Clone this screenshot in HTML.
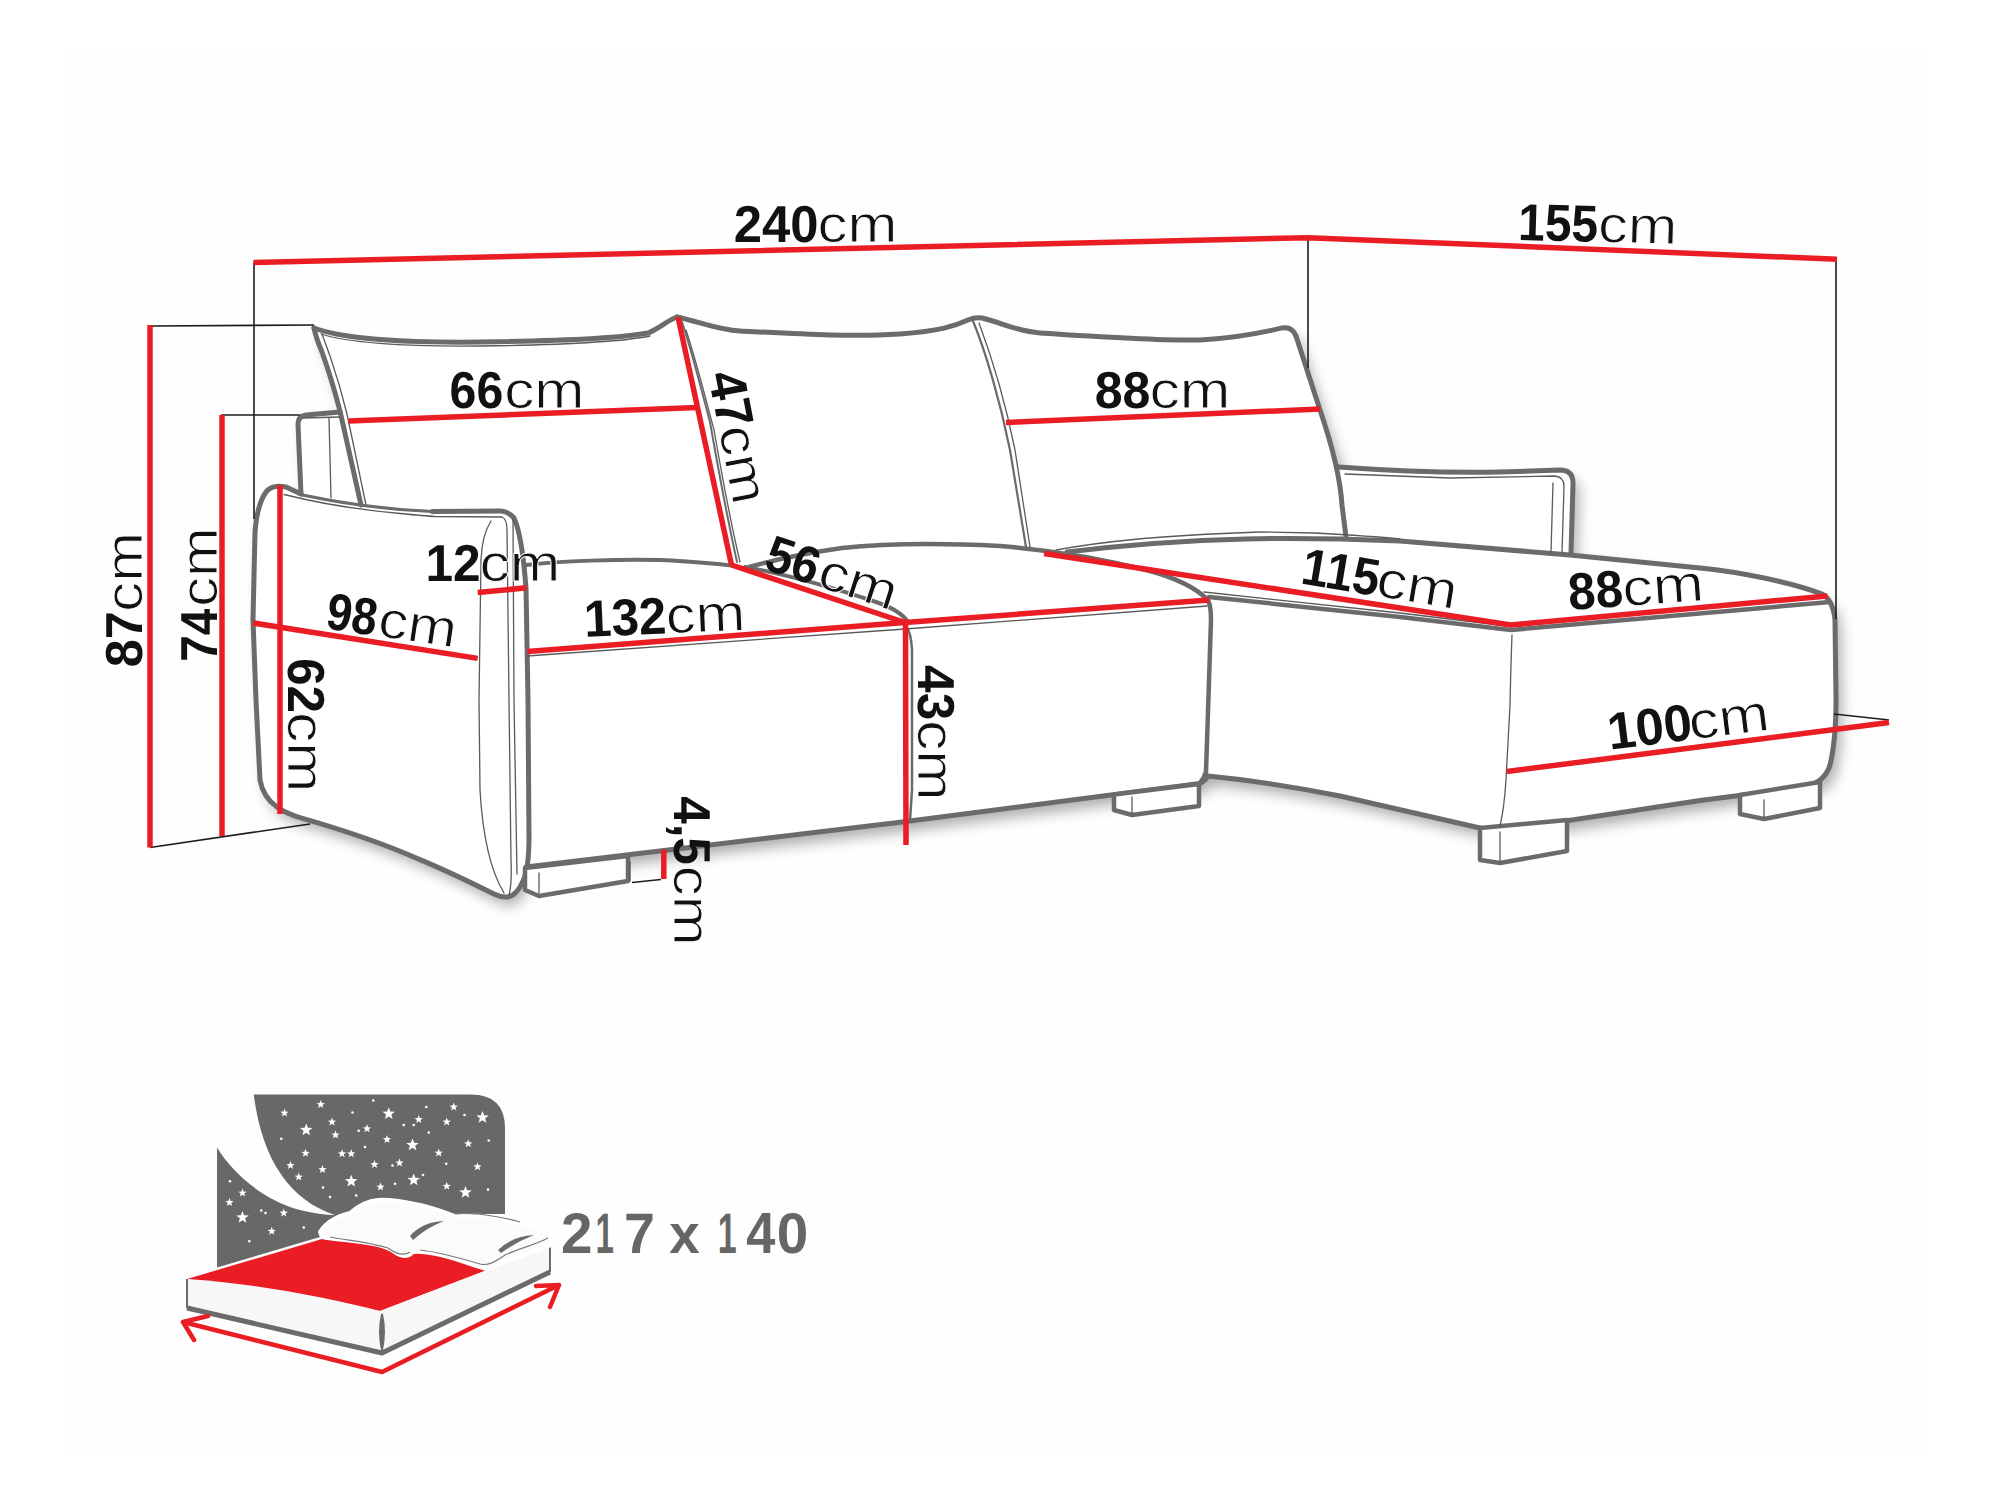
<!DOCTYPE html><html><head><meta charset="utf-8"><style>html,body{margin:0;padding:0;background:#fff;}svg{display:block;}</style></head><body><svg width="2000" height="1500" viewBox="0 0 2000 1500" text-rendering="geometricPrecision">
<rect x="0" y="0" width="2000" height="1500" fill="#ffffff"/>
<defs><filter id="sh" x="-5%" y="-5%" width="115%" height="120%"><feGaussianBlur in="SourceAlpha" stdDeviation="7"/><feOffset dx="6" dy="9"/><feComponentTransfer><feFuncA type="linear" slope="0.32"/></feComponentTransfer><feMerge><feMergeNode/><feMergeNode in="SourceGraphic"/></feMerge></filter></defs>
<rect x="65" y="53" width="1864" height="1397" fill="#fefefe"/>
<path d="M 314 328 C 340 338 400 343 480 342 C 560 341 620 338 648 333 C 660 328 668 320 677 317 C 700 322 718 330 740 331 C 800 334 850 337 900 334 C 940 331 955 326 968 320 Q 975 317 982 318 C 1000 322 1015 331 1040 333 C 1100 337 1160 341 1200 340 C 1240 338 1265 332 1282 328 Q 1292 326 1296 336 L 1320 410 C 1328 435 1334 452 1338 467 C 1380 470 1450 473 1500 472 L 1560 470 Q 1573 470 1573 483 L 1571 553 L 1700 568 C 1740 572 1790 582 1822 594 Q 1833 600 1835 620 L 1836 700 Q 1836 740 1830 765 Q 1825 782 1805 786 L 1700 800.5 L 1500 831 L 1480 828 L 1340 796 C 1300 788 1250 780 1208 776 L 1200 783.5 L 900 822.3 L 526 867 Q 520 890 506 897 Q 500 897 494 894 C 470 882 445 870 420 859.6 C 380 842 340 829 300 817.6 Q 285 813 277 807 Q 263 797 260 780 L 256 700 L 253 620 L 255 532 Q 257 505 266 492 Q 272 484 286 487 L 301 494 L 298 424 Q 298 416 306 415 L 340 411 Q 332 380 322 352 Q 316 338 314 328 Z" fill="#ffffff" filter="url(#sh)"/>
<path d="M 314 328 C 340 338 400 343 480 342 C 560 341 620 338 648 333 C 660 328 668 320 677 317" fill="none" stroke="#6b6b6b" stroke-width="5" stroke-linejoin="round" stroke-linecap="round" />
<path d="M 314 328 Q 316 338 322 352 Q 332 380 340 411 L 361 505" fill="none" stroke="#6b6b6b" stroke-width="5" stroke-linejoin="round" stroke-linecap="round" />
<path d="M 340 412 L 306 415 Q 298 416 298 424 L 301 494" fill="none" stroke="#6b6b6b" stroke-width="5" stroke-linejoin="round" stroke-linecap="round" />
<path d="M 677 317 C 700 322 718 330 740 331 C 800 334 850 337 900 334 C 940 331 955 326 968 320 Q 975 317 982 318 C 1000 322 1015 331 1040 333 C 1100 337 1160 341 1200 340 C 1240 338 1265 332 1282 328 Q 1292 326 1296 336" fill="none" stroke="#6b6b6b" stroke-width="5" stroke-linejoin="round" stroke-linecap="round" />
<path d="M 1296 336 L 1320 410 C 1332 445 1340 475 1342 505 L 1346 537" fill="none" stroke="#6b6b6b" stroke-width="5" stroke-linejoin="round" stroke-linecap="round" />
<path d="M 1338 467 C 1380 470 1450 473 1500 472 L 1560 470 Q 1573 470 1573 483 L 1571 553" fill="none" stroke="#6b6b6b" stroke-width="5" stroke-linejoin="round" stroke-linecap="round" />
<path d="M 432 511.5 L 500 511 Q 508 511 514 518 Q 522 535 526 588 L 528 700 L 529 838 Q 529 868 523 881 Q 516 897 506 897 Q 500 897 494 894 C 470 882 445 870 420 859.6 C 380 842 340 829 300 817.6 Q 285 813 277 807 Q 263 797 260 780 L 256 700 L 253 620 L 255 532 Q 257 505 266 492 Q 272 484 286 487 L 301 494" fill="none" stroke="#6b6b6b" stroke-width="5" stroke-linejoin="round" stroke-linecap="round" />
<path d="M 526 565 C 560 561 620 559 660 560 C 700 562 720 564 735 566" fill="none" stroke="#6b6b6b" stroke-width="4" stroke-linejoin="round" stroke-linecap="round" />
<path d="M 745 567 C 790 575 840 590 876 602 Q 900 610 908 622" fill="none" stroke="#6b6b6b" stroke-width="4" stroke-linejoin="round" stroke-linecap="round" />
<path d="M 749 567 C 770 561 800 554 842 548 C 880 544 940 543 1000 546 C 1050 550 1100 558 1150 571 Q 1190 582 1208 600 Q 1211 606 1211 620 L 1206 772 Q 1204 778 1200 783" fill="none" stroke="#6b6b6b" stroke-width="4.5" stroke-linejoin="round" stroke-linecap="round" />
<path d="M 526 867 L 900 822.3 L 1200 783.5 Q 1205 781 1208 776 C 1250 780 1300 788 1340 796 L 1480 828 Q 1490 831 1500 831 L 1700 800.5 L 1805 787 Q 1825 782 1830 765 Q 1836 740 1836 700 L 1835 620 Q 1833 600 1822 594 C 1790 582 1740 572 1700 568 L 1570 555 L 1400 541 C 1300 537 1200 536 1067 552" fill="none" stroke="#6b6b6b" stroke-width="5" stroke-linejoin="round" stroke-linecap="round" />
<path d="M 1209 597 L 1400 617 L 1511 630 L 1830 602" fill="none" stroke="#6b6b6b" stroke-width="4.5" stroke-linejoin="round" stroke-linecap="round" />
<path d="M 525 868 L 525 890 L 539 896 L 628 881 L 628 856 Z" fill="#fff" stroke="#6b6b6b" stroke-width="4.5" stroke-linejoin="round" stroke-linecap="round" />
<path d="M 1114 794.5 L 1114 810 L 1132 815 L 1199 806 L 1199 784 Z" fill="#fff" stroke="#6b6b6b" stroke-width="4.5" stroke-linejoin="round" stroke-linecap="round" />
<path d="M 1480 828 L 1480 860 L 1500 863 L 1567 851 L 1567 820 Z" fill="#fff" stroke="#6b6b6b" stroke-width="4.5" stroke-linejoin="round" stroke-linecap="round" />
<path d="M 1740 795 L 1740 814 L 1764 819 L 1820 808 L 1820 782 Z" fill="#fff" stroke="#6b6b6b" stroke-width="4.5" stroke-linejoin="round" stroke-linecap="round" />
<path d="M 906 626 Q 911 632 912 650 L 912 790 L 910 820" fill="none" stroke="#6b6b6b" stroke-width="2.5" stroke-linejoin="round" stroke-linecap="round" />
<path d="M 321 334 C 345 342 400 347 480 346 C 560 345 620 342 650 336" fill="none" stroke="#5a5a5a" stroke-width="1.3" stroke-linejoin="round" stroke-linecap="round" />
<path d="M 322 334 Q 326 345 330 356 Q 340 385 347 414 L 366 505" fill="none" stroke="#5a5a5a" stroke-width="1.3" stroke-linejoin="round" stroke-linecap="round" />
<path d="M 329 418 L 331 498" fill="none" stroke="#5a5a5a" stroke-width="1.3" stroke-linejoin="round" stroke-linecap="round" />
<path d="M 303 418 L 340 417" fill="none" stroke="#5a5a5a" stroke-width="1.3" stroke-linejoin="round" stroke-linecap="round" />
<path d="M 973 321 C 985 350 1000 400 1010 450 L 1026 547" fill="none" stroke="#6b6b6b" stroke-width="2.2" stroke-linejoin="round" stroke-linecap="round" />
<path d="M 979 323 C 991 355 1005 400 1015 450 L 1030 547" fill="none" stroke="#5a5a5a" stroke-width="1.3" stroke-linejoin="round" stroke-linecap="round" />
<path d="M 682 322 C 692 352 702 392 710 422 C 717 462 726 512 737 562" fill="none" stroke="#6b6b6b" stroke-width="2" stroke-linejoin="round" stroke-linecap="round" />
<path d="M 686 330 C 696 360 706 400 714 430 C 721 470 730 520 740 562" fill="none" stroke="#5a5a5a" stroke-width="1.3" stroke-linejoin="round" stroke-linecap="round" />
<path d="M 1345 474 L 1450 478 L 1555 476 Q 1564 477 1564 486 L 1562 553" fill="none" stroke="#5a5a5a" stroke-width="1.3" stroke-linejoin="round" stroke-linecap="round" />
<path d="M 1553 483 L 1551 553" fill="none" stroke="#5a5a5a" stroke-width="1.3" stroke-linejoin="round" stroke-linecap="round" />
<path d="M 300 494.5 C 330 501 375 509 432 511.5" fill="none" stroke="#6b6b6b" stroke-width="3.2" stroke-linejoin="round" stroke-linecap="round" />
<path d="M 284 494.5 C 310 501 350 509 400 513.5 C 415 515 425 516 435 516.5 L 502 517 Q 507 519 507 530 L 509 700 L 511 860 Q 512 885 509 895" fill="none" stroke="#5a5a5a" stroke-width="1.3" stroke-linejoin="round" stroke-linecap="round" />
<path d="M 491 521 Q 482 535 481 560 L 479 700 L 480 790 Q 484 860 504 893" fill="none" stroke="#5a5a5a" stroke-width="1.3" stroke-linejoin="round" stroke-linecap="round" />
<path d="M 513 519 L 514 700 L 517 874" fill="none" stroke="#5a5a5a" stroke-width="1.3" stroke-linejoin="round" stroke-linecap="round" />
<path d="M 527 656 L 905 629 L 1207 606" fill="none" stroke="#5a5a5a" stroke-width="1.3" stroke-linejoin="round" stroke-linecap="round" />
<path d="M 1056 550 C 1100 542 1150 536 1260 532 L 1314 533 C 1350 535 1380 537 1400 539" fill="none" stroke="#5a5a5a" stroke-width="1.3" stroke-linejoin="round" stroke-linecap="round" />
<path d="M 1204 592 L 1400 613 L 1507 626" fill="none" stroke="#5a5a5a" stroke-width="1.3" stroke-linejoin="round" stroke-linecap="round" />
<path d="M 1512 635 Q 1511 660 1510 705 L 1506 780 Q 1504 810 1500 826" fill="none" stroke="#5a5a5a" stroke-width="1.3" stroke-linejoin="round" stroke-linecap="round" />
<path d="M 539 873 L 539 893" fill="none" stroke="#5a5a5a" stroke-width="1.3" stroke-linejoin="round" stroke-linecap="round" />
<path d="M 1132 797 L 1132 814" fill="none" stroke="#5a5a5a" stroke-width="1.3" stroke-linejoin="round" stroke-linecap="round" />
<path d="M 1500 832 L 1500 861" fill="none" stroke="#5a5a5a" stroke-width="1.3" stroke-linejoin="round" stroke-linecap="round" />
<path d="M 1764 800 L 1764 818" fill="none" stroke="#5a5a5a" stroke-width="1.3" stroke-linejoin="round" stroke-linecap="round" />
<path d="M 630 862 L 630 881" fill="none" stroke="#5a5a5a" stroke-width="1.3" stroke-linejoin="round" stroke-linecap="round" />
<path d="M 254 262 L 254 519" fill="none" stroke="#1c1c1c" stroke-width="1.6" stroke-linejoin="miter" stroke-linecap="butt"/>
<path d="M 150 326 L 314 325" fill="none" stroke="#1c1c1c" stroke-width="1.6" stroke-linejoin="miter" stroke-linecap="butt"/>
<path d="M 221 415 L 300 415" fill="none" stroke="#1c1c1c" stroke-width="1.6" stroke-linejoin="miter" stroke-linecap="butt"/>
<path d="M 150 847.5 L 310 824" fill="none" stroke="#1c1c1c" stroke-width="1.6" stroke-linejoin="miter" stroke-linecap="butt"/>
<path d="M 1308 238 L 1308 368" fill="none" stroke="#1c1c1c" stroke-width="1.6" stroke-linejoin="miter" stroke-linecap="butt"/>
<path d="M 1836 259 L 1836 619" fill="none" stroke="#1c1c1c" stroke-width="1.6" stroke-linejoin="miter" stroke-linecap="butt"/>
<path d="M 1834 714 L 1889 720" fill="none" stroke="#1c1c1c" stroke-width="1.6" stroke-linejoin="miter" stroke-linecap="butt"/>
<path d="M 632 882.5 L 661 879.5" fill="none" stroke="#1c1c1c" stroke-width="1.6" stroke-linejoin="miter" stroke-linecap="butt"/>
<path d="M 253.5 262.5 L 1308 237.7 L 1837 259.2" fill="none" stroke="#ea1d25" stroke-width="5.5" stroke-linejoin="miter" stroke-linecap="butt"/>
<path d="M 150 325 L 150 847.5" fill="none" stroke="#ea1d25" stroke-width="5.5" stroke-linejoin="miter" stroke-linecap="butt"/>
<path d="M 222 415 L 222 836" fill="none" stroke="#ea1d25" stroke-width="5.5" stroke-linejoin="miter" stroke-linecap="butt"/>
<path d="M 280 485 L 280 814" fill="none" stroke="#ea1d25" stroke-width="5.5" stroke-linejoin="miter" stroke-linecap="butt"/>
<path d="M 253 623 L 477.7 658.4" fill="none" stroke="#ea1d25" stroke-width="5.5" stroke-linejoin="miter" stroke-linecap="butt"/>
<path d="M 477.7 592.6 L 526.5 587.8" fill="none" stroke="#ea1d25" stroke-width="5.5" stroke-linejoin="miter" stroke-linecap="butt"/>
<path d="M 527.3 651.6 L 905 622.5 L 1209 600" fill="none" stroke="#ea1d25" stroke-width="5.5" stroke-linejoin="miter" stroke-linecap="butt"/>
<path d="M 731.5 565 L 905 622.5" fill="none" stroke="#ea1d25" stroke-width="5.5" stroke-linejoin="miter" stroke-linecap="butt"/>
<path d="M 678 317 L 731.5 565" fill="none" stroke="#ea1d25" stroke-width="5.5" stroke-linejoin="miter" stroke-linecap="butt"/>
<path d="M 348.5 421 L 697.5 407.5" fill="none" stroke="#ea1d25" stroke-width="5.5" stroke-linejoin="miter" stroke-linecap="butt"/>
<path d="M 1006 422.5 L 1320 409" fill="none" stroke="#ea1d25" stroke-width="5.5" stroke-linejoin="miter" stroke-linecap="butt"/>
<path d="M 905.5 622.5 L 906 845" fill="none" stroke="#ea1d25" stroke-width="5.5" stroke-linejoin="miter" stroke-linecap="butt"/>
<path d="M 1044 553.5 L 1511 625 L 1827.5 596" fill="none" stroke="#ea1d25" stroke-width="5.5" stroke-linejoin="miter" stroke-linecap="butt"/>
<path d="M 1507 771.5 L 1889 722.5" fill="none" stroke="#ea1d25" stroke-width="5.5" stroke-linejoin="miter" stroke-linecap="butt"/>
<path d="M 663.8 849.6 L 663.8 879" fill="none" stroke="#ea1d25" stroke-width="5.5" stroke-linejoin="miter" stroke-linecap="butt"/>
<g transform="translate(815.5 223.0) rotate(0)"><text x="-81.8" y="18.5" font-family="Liberation Sans" font-weight="bold" font-size="52" fill="#111" textLength="84.75" lengthAdjust="spacingAndGlyphs">240</text><text x="2.0" y="18.5" font-family="Liberation Sans" font-size="52" fill="#111" stroke="#fdfdfd" stroke-width="0.9" textLength="79.75" lengthAdjust="spacingAndGlyphs">cm</text></g>
<g transform="translate(1597.75 223.5) rotate(1.5)"><text x="-79.5" y="18.5" font-family="Liberation Sans" font-weight="bold" font-size="52" fill="#111" textLength="79.9" lengthAdjust="spacingAndGlyphs">155</text><text x="0.5" y="18.5" font-family="Liberation Sans" font-size="52" fill="#111" stroke="#fdfdfd" stroke-width="0.9" textLength="79.0" lengthAdjust="spacingAndGlyphs">cm</text></g>
<g transform="translate(517.05 389.0) rotate(0)"><text x="-67.5" y="18.5" font-family="Liberation Sans" font-weight="bold" font-size="52" fill="#111" textLength="53.68" lengthAdjust="spacingAndGlyphs">66</text><text x="-12.8" y="18.5" font-family="Liberation Sans" font-size="52" fill="#111" stroke="#fdfdfd" stroke-width="0.9" textLength="80.28" lengthAdjust="spacingAndGlyphs">cm</text></g>
<g transform="translate(1162.5 389.75) rotate(0)"><text x="-67.8" y="18.5" font-family="Liberation Sans" font-weight="bold" font-size="52" fill="#111" textLength="55.71" lengthAdjust="spacingAndGlyphs">88</text><text x="-13.1" y="18.5" font-family="Liberation Sans" font-size="52" fill="#111" stroke="#fdfdfd" stroke-width="0.9" textLength="80.98" lengthAdjust="spacingAndGlyphs">cm</text></g>
<g transform="translate(123.45 599.75) rotate(-90)"><text x="-67.6" y="18.5" font-family="Liberation Sans" font-weight="bold" font-size="52" fill="#111" textLength="55.95" lengthAdjust="spacingAndGlyphs">87</text><text x="-11.9" y="18.5" font-family="Liberation Sans" font-size="52" fill="#111" stroke="#fdfdfd" stroke-width="0.9" textLength="79.53" lengthAdjust="spacingAndGlyphs">cm</text></g>
<g transform="translate(198.65 594.5) rotate(-90)"><text x="-67.2" y="18.5" font-family="Liberation Sans" font-weight="bold" font-size="52" fill="#111" textLength="52.95" lengthAdjust="spacingAndGlyphs">74</text><text x="-12.2" y="18.5" font-family="Liberation Sans" font-size="52" fill="#111" stroke="#fdfdfd" stroke-width="0.9" textLength="79.45" lengthAdjust="spacingAndGlyphs">cm</text></g>
<g transform="translate(306.0 725.2) rotate(90)"><text x="-67.0" y="18.5" font-family="Liberation Sans" font-weight="bold" font-size="52" fill="#111" textLength="54.77" lengthAdjust="spacingAndGlyphs">62</text><text x="-13.0" y="18.5" font-family="Liberation Sans" font-size="52" fill="#111" stroke="#fdfdfd" stroke-width="0.9" textLength="80.0" lengthAdjust="spacingAndGlyphs">cm</text></g>
<g transform="translate(739.0 437.0) rotate(79)"><text x="-67.0" y="18.5" font-family="Liberation Sans" font-weight="bold" font-size="52" fill="#111" textLength="56.05" lengthAdjust="spacingAndGlyphs">47</text><text x="-12.0" y="18.5" font-family="Liberation Sans" font-size="52" fill="#111" stroke="#fdfdfd" stroke-width="0.9" textLength="78.97" lengthAdjust="spacingAndGlyphs">cm</text></g>
<g transform="translate(936.0 732.8) rotate(90)"><text x="-67.7" y="18.5" font-family="Liberation Sans" font-weight="bold" font-size="52" fill="#111" textLength="55.08" lengthAdjust="spacingAndGlyphs">43</text><text x="-12.6" y="18.5" font-family="Liberation Sans" font-size="52" fill="#111" stroke="#fdfdfd" stroke-width="0.9" textLength="80.38" lengthAdjust="spacingAndGlyphs">cm</text></g>
<g transform="translate(492.9 562.55) rotate(0)"><text x="-67.4" y="18.5" font-family="Liberation Sans" font-weight="bold" font-size="52" fill="#111" textLength="55.19" lengthAdjust="spacingAndGlyphs">12</text><text x="-13.4" y="18.5" font-family="Liberation Sans" font-size="52" fill="#111" stroke="#fdfdfd" stroke-width="0.9" textLength="80.78" lengthAdjust="spacingAndGlyphs">cm</text></g>
<g transform="translate(392.0 619.55) rotate(8.5)"><text x="-65.6" y="18.5" font-family="Liberation Sans" font-weight="bold" font-size="52" fill="#111" textLength="50.85" lengthAdjust="spacingAndGlyphs">98</text><text x="-12.8" y="18.5" font-family="Liberation Sans" font-size="52" fill="#111" stroke="#fdfdfd" stroke-width="0.9" textLength="78.45" lengthAdjust="spacingAndGlyphs">cm</text></g>
<g transform="translate(664.5 615.0) rotate(-2.5)"><text x="-80.7" y="18.5" font-family="Liberation Sans" font-weight="bold" font-size="52" fill="#111" textLength="82.45" lengthAdjust="spacingAndGlyphs">132</text><text x="1.2" y="18.5" font-family="Liberation Sans" font-size="52" fill="#111" stroke="#fdfdfd" stroke-width="0.9" textLength="79.46" lengthAdjust="spacingAndGlyphs">cm</text></g>
<g transform="translate(832.5 572.0) rotate(18)"><text x="-67.8" y="18.5" font-family="Liberation Sans" font-weight="bold" font-size="52" fill="#111" textLength="53.45" lengthAdjust="spacingAndGlyphs">56</text><text x="-12.0" y="18.5" font-family="Liberation Sans" font-size="52" fill="#111" stroke="#fdfdfd" stroke-width="0.9" textLength="79.79" lengthAdjust="spacingAndGlyphs">cm</text></g>
<g transform="translate(1380.0 578.0) rotate(9.5)"><text x="-78.6" y="18.5" font-family="Liberation Sans" font-weight="bold" font-size="52" fill="#111" textLength="78.26" lengthAdjust="spacingAndGlyphs">115</text><text x="-2.4" y="18.5" font-family="Liberation Sans" font-size="52" fill="#111" stroke="#fdfdfd" stroke-width="0.9" textLength="81.08" lengthAdjust="spacingAndGlyphs">cm</text></g>
<g transform="translate(1635.8 586.75) rotate(-4)"><text x="-67.9" y="18.5" font-family="Liberation Sans" font-weight="bold" font-size="52" fill="#111" textLength="54.7" lengthAdjust="spacingAndGlyphs">88</text><text x="-13.5" y="18.5" font-family="Liberation Sans" font-size="52" fill="#111" stroke="#fdfdfd" stroke-width="0.9" textLength="81.4" lengthAdjust="spacingAndGlyphs">cm</text></g>
<g transform="translate(1688.0 721.5) rotate(-7)"><text x="-81.2" y="18.5" font-family="Liberation Sans" font-weight="bold" font-size="52" fill="#111" textLength="84.74" lengthAdjust="spacingAndGlyphs">100</text><text x="0.4" y="18.5" font-family="Liberation Sans" font-size="52" fill="#111" stroke="#fdfdfd" stroke-width="0.9" textLength="80.81" lengthAdjust="spacingAndGlyphs">cm</text></g>
<g transform="translate(692.4 870.9) rotate(90)"><text x="-74.7" y="18.5" font-family="Liberation Sans" font-weight="bold" font-size="52" fill="#111" textLength="68.58" lengthAdjust="spacingAndGlyphs">4,5</text><text x="-5.1" y="18.5" font-family="Liberation Sans" font-size="52" fill="#111" stroke="#fdfdfd" stroke-width="0.9" textLength="79.84" lengthAdjust="spacingAndGlyphs">cm</text></g>
<path d="M 253.75 1094.5 L 471 1094.5 Q 505 1094.5 505 1128.5 L 505 1214 L 440 1214 L 217 1272 L 217 1147.5 C 232 1172 262 1200 300 1210 Q 320 1215 335 1215 C 290 1200 262 1160 253.75 1094.5 Z" fill="#686868"/>
<polygon points="306.25,1123.40 307.88,1127.76 312.53,1127.96 308.89,1130.86 310.13,1135.34 306.25,1132.77 302.37,1135.34 303.61,1130.86 299.97,1127.96 304.62,1127.76" fill="#fff"/>
<polygon points="388.75,1107.15 390.38,1111.51 395.03,1111.71 391.39,1114.61 392.63,1119.09 388.75,1116.52 384.87,1119.09 386.11,1114.61 382.47,1111.71 387.12,1111.51" fill="#fff"/>
<polygon points="412.50,1138.40 414.13,1142.76 418.78,1142.96 415.14,1145.86 416.38,1150.34 412.50,1147.77 408.62,1150.34 409.86,1145.86 406.22,1142.96 410.87,1142.76" fill="#fff"/>
<polygon points="482.50,1110.90 484.13,1115.26 488.78,1115.46 485.14,1118.36 486.38,1122.84 482.50,1120.27 478.62,1122.84 479.86,1118.36 476.22,1115.46 480.87,1115.26" fill="#fff"/>
<polygon points="351.25,1174.65 352.88,1179.01 357.53,1179.21 353.89,1182.11 355.13,1186.59 351.25,1184.02 347.37,1186.59 348.61,1182.11 344.97,1179.21 349.62,1179.01" fill="#fff"/>
<polygon points="413.75,1173.40 415.38,1177.76 420.03,1177.96 416.39,1180.86 417.63,1185.34 413.75,1182.77 409.87,1185.34 411.11,1180.86 407.47,1177.96 412.12,1177.76" fill="#fff"/>
<polygon points="465.50,1185.90 467.13,1190.26 471.78,1190.46 468.14,1193.36 469.38,1197.84 465.50,1195.27 461.62,1197.84 462.86,1193.36 459.22,1190.46 463.87,1190.26" fill="#fff"/>
<polygon points="242.50,1210.90 244.13,1215.26 248.78,1215.46 245.14,1218.36 246.38,1222.84 242.50,1220.27 238.62,1222.84 239.86,1218.36 236.22,1215.46 240.87,1215.26" fill="#fff"/>
<polygon points="320.75,1100.10 321.84,1103.00 324.93,1103.14 322.51,1105.07 323.34,1108.06 320.75,1106.35 318.16,1108.06 318.99,1105.07 316.57,1103.14 319.66,1103.00" fill="#fff"/>
<polygon points="284.50,1108.60 285.59,1111.50 288.68,1111.64 286.26,1113.57 287.09,1116.56 284.50,1114.85 281.91,1116.56 282.74,1113.57 280.32,1111.64 283.41,1111.50" fill="#fff"/>
<polygon points="332.00,1117.60 333.09,1120.50 336.18,1120.64 333.76,1122.57 334.59,1125.56 332.00,1123.85 329.41,1125.56 330.24,1122.57 327.82,1120.64 330.91,1120.50" fill="#fff"/>
<polygon points="335.50,1130.60 336.59,1133.50 339.68,1133.64 337.26,1135.57 338.09,1138.56 335.50,1136.85 332.91,1138.56 333.74,1135.57 331.32,1133.64 334.41,1133.50" fill="#fff"/>
<polygon points="367.00,1124.35 368.09,1127.25 371.18,1127.39 368.76,1129.32 369.59,1132.31 367.00,1130.60 364.41,1132.31 365.24,1129.32 362.82,1127.39 365.91,1127.25" fill="#fff"/>
<polygon points="418.75,1115.10 419.84,1118.00 422.93,1118.14 420.51,1120.07 421.34,1123.06 418.75,1121.35 416.16,1123.06 416.99,1120.07 414.57,1118.14 417.66,1118.00" fill="#fff"/>
<polygon points="446.75,1117.60 447.84,1120.50 450.93,1120.64 448.51,1122.57 449.34,1125.56 446.75,1123.85 444.16,1125.56 444.99,1122.57 442.57,1120.64 445.66,1120.50" fill="#fff"/>
<polygon points="453.75,1102.60 454.84,1105.50 457.93,1105.64 455.51,1107.57 456.34,1110.56 453.75,1108.85 451.16,1110.56 451.99,1107.57 449.57,1105.64 452.66,1105.50" fill="#fff"/>
<polygon points="387.00,1135.10 388.09,1138.00 391.18,1138.14 388.76,1140.07 389.59,1143.06 387.00,1141.35 384.41,1143.06 385.24,1140.07 382.82,1138.14 385.91,1138.00" fill="#fff"/>
<polygon points="305.50,1148.85 306.59,1151.75 309.68,1151.89 307.26,1153.82 308.09,1156.81 305.50,1155.10 302.91,1156.81 303.74,1153.82 301.32,1151.89 304.41,1151.75" fill="#fff"/>
<polygon points="342.00,1149.35 343.09,1152.25 346.18,1152.39 343.76,1154.32 344.59,1157.31 342.00,1155.60 339.41,1157.31 340.24,1154.32 337.82,1152.39 340.91,1152.25" fill="#fff"/>
<polygon points="351.25,1149.35 352.34,1152.25 355.43,1152.39 353.01,1154.32 353.84,1157.31 351.25,1155.60 348.66,1157.31 349.49,1154.32 347.07,1152.39 350.16,1152.25" fill="#fff"/>
<polygon points="438.75,1148.60 439.84,1151.50 442.93,1151.64 440.51,1153.57 441.34,1156.56 438.75,1154.85 436.16,1156.56 436.99,1153.57 434.57,1151.64 437.66,1151.50" fill="#fff"/>
<polygon points="468.25,1139.35 469.34,1142.25 472.43,1142.39 470.01,1144.32 470.84,1147.31 468.25,1145.60 465.66,1147.31 466.49,1144.32 464.07,1142.39 467.16,1142.25" fill="#fff"/>
<polygon points="290.50,1161.10 291.59,1164.00 294.68,1164.14 292.26,1166.07 293.09,1169.06 290.50,1167.35 287.91,1169.06 288.74,1166.07 286.32,1164.14 289.41,1164.00" fill="#fff"/>
<polygon points="322.50,1165.10 323.59,1168.00 326.68,1168.14 324.26,1170.07 325.09,1173.06 322.50,1171.35 319.91,1173.06 320.74,1170.07 318.32,1168.14 321.41,1168.00" fill="#fff"/>
<polygon points="374.50,1160.10 375.59,1163.00 378.68,1163.14 376.26,1165.07 377.09,1168.06 374.50,1166.35 371.91,1168.06 372.74,1165.07 370.32,1163.14 373.41,1163.00" fill="#fff"/>
<polygon points="399.50,1158.60 400.59,1161.50 403.68,1161.64 401.26,1163.57 402.09,1166.56 399.50,1164.85 396.91,1166.56 397.74,1163.57 395.32,1161.64 398.41,1161.50" fill="#fff"/>
<polygon points="477.50,1162.35 478.59,1165.25 481.68,1165.39 479.26,1167.32 480.09,1170.31 477.50,1168.60 474.91,1170.31 475.74,1167.32 473.32,1165.39 476.41,1165.25" fill="#fff"/>
<polygon points="298.75,1172.60 299.84,1175.50 302.93,1175.64 300.51,1177.57 301.34,1180.56 298.75,1178.85 296.16,1180.56 296.99,1177.57 294.57,1175.64 297.66,1175.50" fill="#fff"/>
<polygon points="380.50,1182.60 381.59,1185.50 384.68,1185.64 382.26,1187.57 383.09,1190.56 380.50,1188.85 377.91,1190.56 378.74,1187.57 376.32,1185.64 379.41,1185.50" fill="#fff"/>
<polygon points="446.75,1181.85 447.84,1184.75 450.93,1184.89 448.51,1186.82 449.34,1189.81 446.75,1188.10 444.16,1189.81 444.99,1186.82 442.57,1184.89 445.66,1184.75" fill="#fff"/>
<polygon points="242.50,1188.60 243.59,1191.50 246.68,1191.64 244.26,1193.57 245.09,1196.56 242.50,1194.85 239.91,1196.56 240.74,1193.57 238.32,1191.64 241.41,1191.50" fill="#fff"/>
<polygon points="229.50,1198.10 230.59,1201.00 233.68,1201.14 231.26,1203.07 232.09,1206.06 229.50,1204.35 226.91,1206.06 227.74,1203.07 225.32,1201.14 228.41,1201.00" fill="#fff"/>
<polygon points="283.75,1208.60 284.84,1211.50 287.93,1211.64 285.51,1213.57 286.34,1216.56 283.75,1214.85 281.16,1216.56 281.99,1213.57 279.57,1211.64 282.66,1211.50" fill="#fff"/>
<polygon points="271.75,1226.85 272.84,1229.75 275.93,1229.89 273.51,1231.82 274.34,1234.81 271.75,1233.10 269.16,1234.81 269.99,1231.82 267.57,1229.89 270.66,1229.75" fill="#fff"/>
<circle cx="373.25" cy="1100.50" r="1.3" fill="#fff"/>
<circle cx="352.50" cy="1112.50" r="1.3" fill="#fff"/>
<circle cx="426.25" cy="1107.00" r="1.3" fill="#fff"/>
<circle cx="464.50" cy="1115.00" r="1.3" fill="#fff"/>
<circle cx="403.75" cy="1125.00" r="1.3" fill="#fff"/>
<circle cx="413.75" cy="1125.00" r="1.3" fill="#fff"/>
<circle cx="358.75" cy="1130.75" r="1.3" fill="#fff"/>
<circle cx="428.75" cy="1132.50" r="1.3" fill="#fff"/>
<circle cx="281.25" cy="1138.75" r="1.3" fill="#fff"/>
<circle cx="365.00" cy="1147.00" r="1.3" fill="#fff"/>
<circle cx="488.75" cy="1140.50" r="1.3" fill="#fff"/>
<circle cx="446.25" cy="1163.75" r="1.3" fill="#fff"/>
<circle cx="392.50" cy="1165.50" r="1.3" fill="#fff"/>
<circle cx="423.00" cy="1175.00" r="1.3" fill="#fff"/>
<circle cx="395.00" cy="1183.75" r="1.3" fill="#fff"/>
<circle cx="323.00" cy="1187.50" r="1.3" fill="#fff"/>
<circle cx="330.00" cy="1197.00" r="1.3" fill="#fff"/>
<circle cx="356.25" cy="1195.50" r="1.3" fill="#fff"/>
<circle cx="488.00" cy="1189.50" r="1.3" fill="#fff"/>
<circle cx="230.00" cy="1181.25" r="1.3" fill="#fff"/>
<circle cx="261.25" cy="1210.50" r="1.3" fill="#fff"/>
<circle cx="265.50" cy="1213.00" r="1.3" fill="#fff"/>
<circle cx="303.75" cy="1227.50" r="1.3" fill="#fff"/>
<circle cx="249.25" cy="1241.25" r="1.3" fill="#fff"/>
<path d="M 187 1279 L 322 1239 L 550 1246" fill="none" stroke="#fdfdfd" stroke-width="5"/>
<path d="M 187 1279 L 322 1239 L 550 1246 L 380 1311 Z" fill="#ea1d25"/>
<path d="M 187 1279 C 250 1283 320 1296 380 1311 L 382 1353 L 187 1308 Z" fill="#f7f7f7"/>
<path d="M 380 1311 L 550 1246 L 550 1272 L 382 1353 Z" fill="#f7f7f7"/>
<path d="M 187 1279 L 187 1308 M 550 1272 L 550 1247" fill="none" stroke="#6b6b6b" stroke-width="2"/>
<path d="M 187 1308 L 382 1353 L 550 1272" fill="none" stroke="#6b6b6b" stroke-width="5" stroke-linejoin="round"/>
<path d="M 382 1314 Q 378 1332 382 1350 Q 386 1332 382 1314 Z" fill="#6b6b6b" stroke="#6b6b6b" stroke-width="2"/>
<path d="M 320 1232 C 326 1222 338 1216 350 1213 C 358 1206 366 1201 378 1200 C 392 1199 405 1202 420 1205 C 438 1209 448 1214 458 1217 C 470 1214 485 1216 497 1218 C 515 1222 535 1226 551 1234 L 551 1245 L 486 1269 C 472 1265 460 1260 445 1256 C 432 1253 420 1251 413 1252 C 408 1257 402 1257 396 1253 C 390 1248 378 1244 360 1242 C 345 1240 332 1239 322 1237 Z" fill="#fbfbfb" stroke="#ffffff" stroke-width="4"/>
<path d="M 330 1237 C 345 1240 370 1242 388 1248 C 396 1254 404 1256 410 1252 M 420 1250 C 440 1252 460 1258 480 1264 C 488 1266 495 1262 505 1255 C 520 1248 535 1245 548 1238 M 455 1214 C 470 1212 500 1216 520 1222" fill="none" stroke="#7a7a7a" stroke-width="1.2"/>
<path d="M 410 1236 Q 422 1222 444 1221 Q 426 1228 413 1240 Z" fill="#6b6b6b"/>
<path d="M 498 1250 Q 512 1236 534 1235 Q 516 1242 501 1253 Z" fill="#6b6b6b"/>
<path d="M 194 1340 L 183 1322 L 208 1316 M 183 1322 L 382 1372 L 559 1285 M 536 1286 L 559 1285 L 550 1307" fill="none" stroke="#ea1d25" stroke-width="4.5" stroke-linejoin="round" stroke-linecap="round"/>
<text transform="matrix(0.5667 0 0 0.5743 561.02 1253.20)" font-family="Liberation Sans" font-weight="bold" font-size="100" fill="#666">2</text>
<text transform="matrix(0.3312 0 0 0.5710 595.45 1253.20)" font-family="Liberation Sans" font-weight="bold" font-size="100" fill="#666">1</text>
<text transform="matrix(0.5570 0 0 0.5710 624.09 1253.20)" font-family="Liberation Sans" font-weight="bold" font-size="100" fill="#666">7</text>
<text transform="matrix(0.5477 0 0 0.5491 669.15 1253.20)" font-family="Liberation Sans" font-weight="bold" font-size="100" fill="#666">x</text>
<text transform="matrix(0.3398 0 0 0.5710 717.79 1253.20)" font-family="Liberation Sans" font-weight="bold" font-size="100" fill="#666">1</text>
<text transform="matrix(0.5234 0 0 0.5826 746.21 1253.20)" font-family="Liberation Sans" font-weight="bold" font-size="100" fill="#666">4</text>
<text transform="matrix(0.5663 0 0 0.5746 776.63 1253.23)" font-family="Liberation Sans" font-weight="bold" font-size="100" fill="#666">0</text>
</svg></body></html>
